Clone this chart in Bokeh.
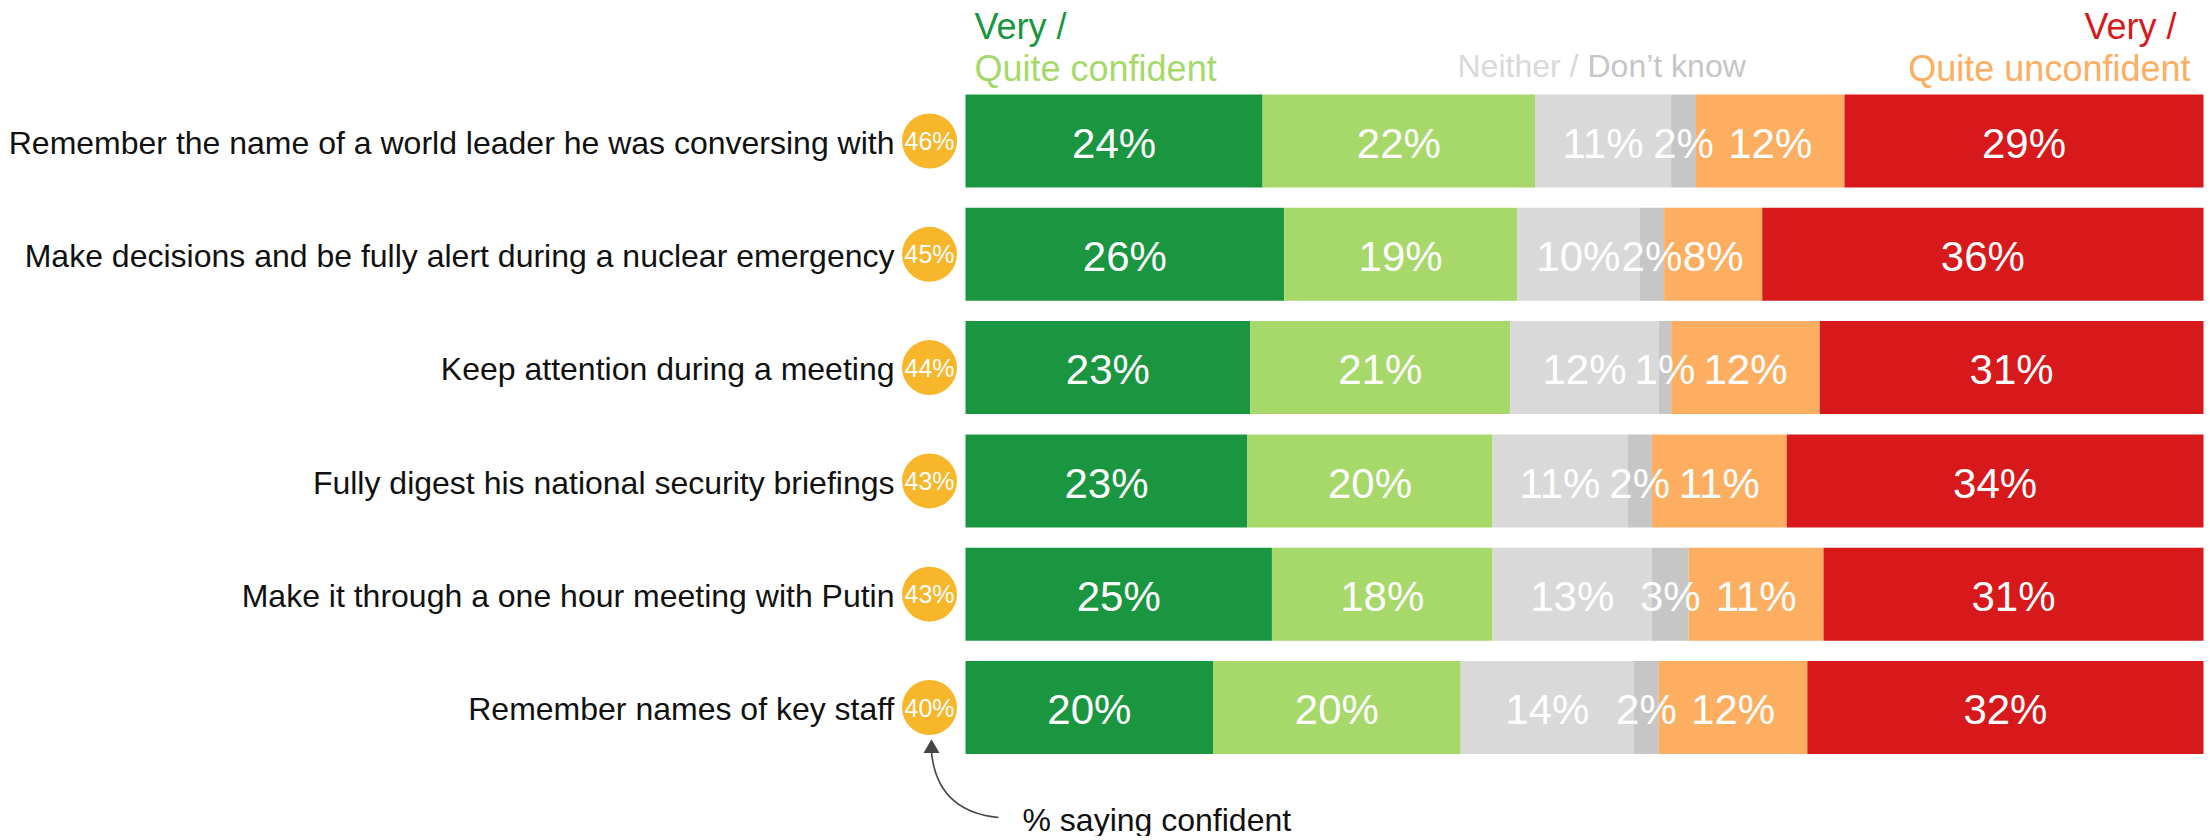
from bokeh.plotting import figure
from bokeh.models import Range1d
from bokeh.core.properties import value
from bokeh.embed import file_html
from bokeh.resources import INLINE

# ---------------- data ----------------
statements = [
    "Remember the name of a world leader he was conversing with",
    "Make decisions and be fully alert during a nuclear emergency",
    "Keep attention during a meeting",
    "Fully digest his national security briefings",
    "Make it through a one hour meeting with Putin",
    "Remember names of key staff",
]
confident_total = [46, 45, 44, 43, 43, 40]
very_confident = [24, 26, 23, 23, 25, 20]
quite_confident = [22, 19, 21, 20, 18, 20]
neither = [11, 10, 12, 11, 13, 14]
dont_know = [2, 2, 1, 2, 3, 2]
quite_unconfident = [12, 8, 12, 11, 11, 12]
very_unconfident = [29, 36, 31, 34, 31, 32]

segments = [very_confident, quite_confident, neither, dont_know,
            quite_unconfident, very_unconfident]
segment_colors = ["#1a9641", "#a6d96a", "#d9d9d9", "#c6c6c6", "#fdae61", "#d7191c"]

# ---------------- layout ----------------
W, H = 2208, 836
OFF = 0                      # page offset of the figure
BAR_L, BAR_R = 965, 2203     # page x of bar start / end
SCALE = (BAR_R - BAR_L) / 100.0
ROW0, ROW_STEP = 140.5, 113.3  # page y of first row centre, row spacing
BAR_H = 93 / ROW_STEP


def px(page_x):
    return (page_x - BAR_L) / SCALE


def py(page_y):
    return (page_y - ROW0) / ROW_STEP


FONT = value("Liberation Sans")

p = figure(width=W, height=H, output_backend="svg", toolbar_location=None,
           x_range=Range1d(px(OFF), px(OFF + W)),
           y_range=Range1d(py(OFF + H), py(OFF)),
           min_border=0, x_axis_location=None, y_axis_location=None)
p.grid.visible = False
p.outline_line_color = None
p.background_fill_color = "white"
p.border_fill_color = "white"

rows = list(range(len(statements)))
totals = [sum(s[i] for s in segments) for i in rows]

# stacked bars (normalised to the full width)
cum = [0.0] * len(rows)
label_x, label_y, label_txt = [], [], []
for seg, col in zip(segments, segment_colors):
    left = [cum[i] for i in rows]
    right = [cum[i] + seg[i] * 100.0 / totals[i] for i in rows]
    p.hbar(y=rows, left=left, right=right, height=BAR_H,
           fill_color=col, line_color=None)
    label_x += [(l + r) / 2 for l, r in zip(left, right)]
    label_y += [r + 0.02 for r in rows]
    label_txt += [f"{v}%" for v in seg]
    cum = right

# segment labels, drawn on top of every bar
p.text(x=label_x, y=label_y, text=label_txt,
       text_font=FONT, text_font_size="42px", text_color="white",
       text_align="center", text_baseline="middle")

# statements
p.text(x=[px(894)] * len(rows), y=[r + 0.015 for r in rows], text=statements,
       text_font=FONT, text_font_size="32px", text_color="#111111",
       text_align="right", text_baseline="middle")

# confident total badges
p.scatter(x=[px(929)] * len(rows), y=rows, size=55, marker="circle",
          fill_color="#f8b62b", line_color=None)
p.text(x=[px(929)] * len(rows), y=rows, text=[f"{v}%" for v in confident_total],
       text_font=FONT, text_font_size="25px", text_color="white",
       text_align="center", text_baseline="middle")


# headers (y = cap centre on the page)
def header(txt, x, y, color, size="36px", align="left"):
    p.text(x=[px(x)], y=[py(y)], text=[txt], text_font=FONT,
           text_font_size=size, text_color=color,
           text_align=align, text_baseline="middle")


header("Very /", 974, 26, "#1a9641")
header("Quite confident", 974, 68, "#a6d96a")
header("Neither /", 1457, 65, "#d9d9d9", size="32px")
header("Don\u2019t know", 1587, 65, "#c6c6c6", size="32px")
header("Very /", 2176, 26, "#d7191c", align="right")
header("Quite unconfident", 2190, 68, "#fdae61", align="right")

# annotation
p.quadratic(x0=[px(931)], y0=[py(752)], x1=[px(998)], y1=[py(817)],
            cx=[px(937)], cy=[py(811)], line_color="#444444", line_width=1.6)
p.scatter(x=[px(931)], y=[py(748)], marker="triangle", size=16,
          fill_color="#444444", line_color=None)
header("% saying confident", 1022, 819, "#111111", size="32px")

open("out.html", "w").write(file_html(p, INLINE))
